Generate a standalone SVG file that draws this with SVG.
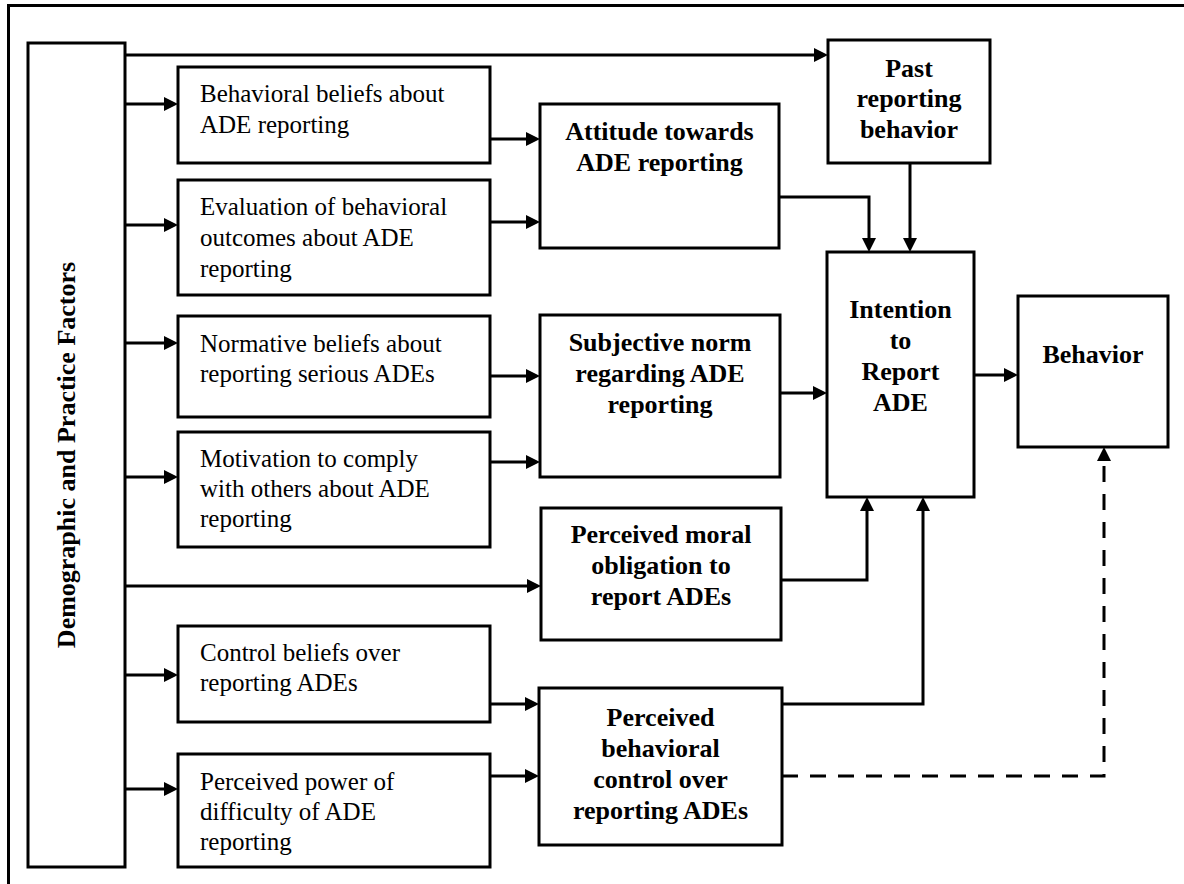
<svg xmlns="http://www.w3.org/2000/svg" width="1184" height="884" viewBox="0 0 1184 884">
  <style>
    .box { fill: #fff; stroke: #000; stroke-width: 3; }
    .t { font-family: "Liberation Serif", "Times New Roman", serif; font-size: 25px; fill: #000; }
    .b { font-family: "Liberation Serif", "Times New Roman", serif; font-size: 26px; font-weight: bold; fill: #000; text-anchor: middle; }
    .c { fill: none; stroke: #000; stroke-width: 3; }
    .dash { stroke-dasharray: 16 12; }
  </style>
  <defs>
    <marker id="arrow" markerUnits="userSpaceOnUse" markerWidth="14" markerHeight="14" refX="8" refY="7" orient="auto">
      <path d="M0,0 L14,7 L0,14 z" fill="#000"/>
    </marker>
  </defs>

  <rect width="1184" height="884" fill="#fff"/>

  <!-- outer frame (top and left edges) -->
  <path class="c" d="M8.5,884 V5.5 H1184"/>

  <g id="demographic">
    <rect class="box" x="28" y="43" width="97" height="824"/>
    <text class="b" transform="translate(75,455) rotate(-90)">Demographic and Practice Factors</text>
  </g>

  <g id="behavioral-beliefs">
    <rect class="box" x="178" y="67" width="312" height="96"/>
    <text class="t" x="200" y="102">Behavioral beliefs about</text>
    <text class="t" x="200" y="133">ADE reporting</text>
  </g>

  <g id="evaluation">
    <rect class="box" x="178" y="180" width="312" height="115"/>
    <text class="t" x="200" y="215">Evaluation of behavioral</text>
    <text class="t" x="200" y="246">outcomes about ADE</text>
    <text class="t" x="200" y="277">reporting</text>
  </g>

  <g id="normative-beliefs">
    <rect class="box" x="178" y="316" width="312" height="101"/>
    <text class="t" x="200" y="352">Normative beliefs about</text>
    <text class="t" x="200" y="382">reporting serious ADEs</text>
  </g>

  <g id="motivation">
    <rect class="box" x="178" y="432" width="312" height="115"/>
    <text class="t" x="200" y="467">Motivation to comply</text>
    <text class="t" x="200" y="497">with others about ADE</text>
    <text class="t" x="200" y="527">reporting</text>
  </g>

  <g id="control-beliefs">
    <rect class="box" x="178" y="626" width="312" height="96"/>
    <text class="t" x="200" y="661">Control beliefs over</text>
    <text class="t" x="200" y="691">reporting ADEs</text>
  </g>

  <g id="perceived-power">
    <rect class="box" x="178" y="754" width="312" height="113"/>
    <text class="t" x="200" y="790">Perceived power of</text>
    <text class="t" x="200" y="820">difficulty of ADE</text>
    <text class="t" x="200" y="850">reporting</text>
  </g>

  <g id="attitude">
    <rect class="box" x="540" y="104" width="239" height="144"/>
    <text class="b" x="659.5" y="140">Attitude towards</text>
    <text class="b" x="659.5" y="171">ADE reporting</text>
  </g>

  <g id="subjective-norm">
    <rect class="box" x="540" y="315" width="240" height="162"/>
    <text class="b" x="660" y="351">Subjective norm</text>
    <text class="b" x="660" y="382">regarding ADE</text>
    <text class="b" x="660" y="413">reporting</text>
  </g>

  <g id="moral-obligation">
    <rect class="box" x="541" y="508" width="240" height="132"/>
    <text class="b" x="661" y="543">Perceived moral</text>
    <text class="b" x="661" y="574">obligation to</text>
    <text class="b" x="661" y="605">report ADEs</text>
  </g>

  <g id="perceived-control">
    <rect class="box" x="539" y="688" width="243" height="157"/>
    <text class="b" x="660.5" y="726">Perceived</text>
    <text class="b" x="660.5" y="757">behavioral</text>
    <text class="b" x="660.5" y="788">control over</text>
    <text class="b" x="660.5" y="819">reporting ADEs</text>
  </g>

  <g id="past-behavior">
    <rect class="box" x="828" y="40" width="162" height="123"/>
    <text class="b" x="909" y="77">Past</text>
    <text class="b" x="909" y="107">reporting</text>
    <text class="b" x="909" y="138">behavior</text>
  </g>

  <g id="intention">
    <rect class="box" x="827" y="252" width="147" height="245"/>
    <text class="b" x="900.5" y="318">Intention</text>
    <text class="b" x="900.5" y="349">to</text>
    <text class="b" x="900.5" y="380">Report</text>
    <text class="b" x="900.5" y="411">ADE</text>
  </g>

  <g id="behavior">
    <rect class="box" x="1018" y="296" width="150" height="151"/>
    <text class="b" x="1093" y="363">Behavior</text>
  </g>

  <g id="connectors">
    <!-- from the demographic factors -->
    <path class="c" d="M125,55 H822" marker-end="url(#arrow)"/>
    <path class="c" d="M125,104 H172" marker-end="url(#arrow)"/>
    <path class="c" d="M125,225 H172" marker-end="url(#arrow)"/>
    <path class="c" d="M125,343 H172" marker-end="url(#arrow)"/>
    <path class="c" d="M125,477 H172" marker-end="url(#arrow)"/>
    <path class="c" d="M125,586 H535" marker-end="url(#arrow)"/>
    <path class="c" d="M125,675 H172" marker-end="url(#arrow)"/>
    <path class="c" d="M125,789 H172" marker-end="url(#arrow)"/>
    <!-- beliefs into constructs -->
    <path class="c" d="M490,139 H534" marker-end="url(#arrow)"/>
    <path class="c" d="M490,222 H534" marker-end="url(#arrow)"/>
    <path class="c" d="M490,376 H534" marker-end="url(#arrow)"/>
    <path class="c" d="M490,462 H534" marker-end="url(#arrow)"/>
    <path class="c" d="M490,704 H533" marker-end="url(#arrow)"/>
    <path class="c" d="M490,776 H533" marker-end="url(#arrow)"/>
    <!-- constructs into intention -->
    <path class="c" d="M779,197 H869 V246" marker-end="url(#arrow)"/>
    <path class="c" d="M910,163 V246" marker-end="url(#arrow)"/>
    <path class="c" d="M780,393 H821" marker-end="url(#arrow)"/>
    <path class="c" d="M781,580 H867 V503" marker-end="url(#arrow)"/>
    <path class="c" d="M782,704 H923 V503" marker-end="url(#arrow)"/>
    <!-- intention to behavior -->
    <path class="c" d="M974,375 H1012" marker-end="url(#arrow)"/>
    <!-- perceived control directly to behavior -->
    <path class="c dash" d="M782,776 H1104 V453" marker-end="url(#arrow)"/>
  </g>
</svg>
